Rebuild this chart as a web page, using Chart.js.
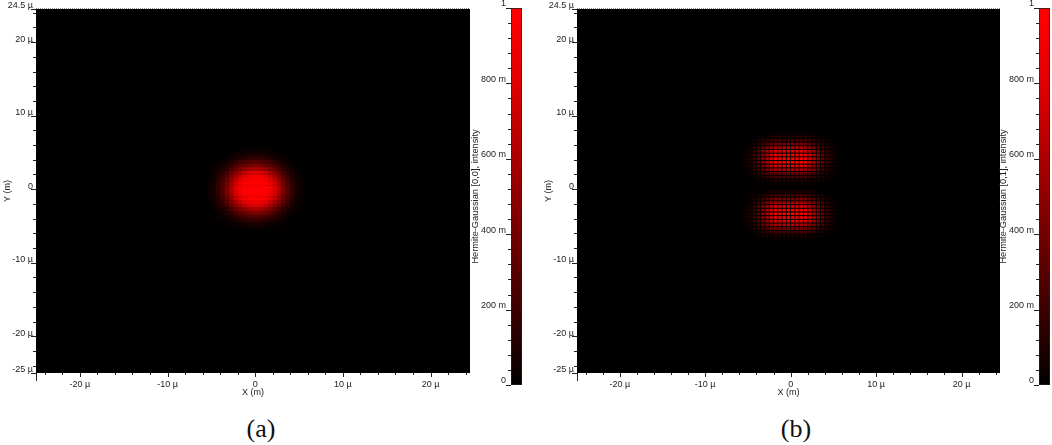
<!DOCTYPE html>
<html>
<head>
<meta charset="utf-8">
<title>Hermite-Gaussian intensity</title>
<script src="https://cdn.jsdelivr.net/npm/chart.js@4"></script>
<style>
    html, body { margin: 0; padding: 0; background: #fff; }
    body { width: 1052px; height: 445px; position: relative; overflow: hidden; }
    canvas { position: absolute; top: 0; }
    .caption { position: absolute; top: 414px; font: 26px "Liberation Serif", serif; color: #111; transform: translateX(-50%); }
</style>
</head>
<body>
<canvas id="beamA" width="475" height="400" style="left:0"></canvas>
<canvas id="barA" width="53" height="400" style="left:470px"></canvas>
<canvas id="beamB" width="464" height="400" style="left:541px"></canvas>
<canvas id="barB" width="53" height="400" style="left:998px"></canvas>
<div class="caption" style="left:261px">(a)</div>
<div class="caption" style="left:796px">(b)</div>
<script>
// Axis ticks (values in microns)
const xTickValues = [-20, -10, 0, 10, 20];
const xTickLabels = ['-20 µ', '-10 µ', '0', '10 µ', '20 µ'];
const yTickValues = [-25, -20, -10, 0, 10, 20, 24.5];
const yTickLabels = ['-25 µ', '-20 µ', '-10 µ', '0', '10 µ', '20 µ', '24.5 µ'];
const minorTicks = [-24, -22, -18, -16, -14, -12, -8, -6, -4, -2, 2, 4, 6, 8, 12, 14, 16, 18, 22, 24];

// Colour bar
const barTickValues = [0, 0.2, 0.4, 0.6, 0.8, 1];
const barTickLabels = ['0', '200 m', '400 m', '600 m', '800 m', '1'];
const barMinorTicks = [0.04, 0.08, 0.12, 0.16, 0.24, 0.28, 0.32, 0.36, 0.44, 0.48, 0.52, 0.56, 0.64, 0.68, 0.72, 0.76, 0.84, 0.88, 0.92, 0.96];
const rampStops = [0, 0.2, 0.4, 0.6, 0.8, 1];
const rampReds = [0, 60, 115, 170, 225, 255];

// Distance from the beam centre of each cell (microns)
const cellOffsets = [0.25, 0.75, 1.25, 1.75, 2.25, 2.75, 3.25, 3.75, 4.25, 4.75, 5.25, 5.75];
const lobeOffsets = [0.25, 0.75, 1.25, 1.75, 2.25, 2.75, 3.25, 3.75, 4.25, 4.75, 5.25, 5.75, 6.25, 6.75, 7.25];

// Intensity in percent, one quadrant, rows are y offsets and columns x offsets.
// Both spots look symmetric so the other quadrants are mirrored below.
const beam00 = [
    [100, 100, 100, 92, 78, 60, 43, 28, 17, 9, 4, 1],
    [100, 100, 97, 88, 74, 57, 40, 26, 16, 8, 4, 1],
    [100, 97, 92, 81, 67, 50, 36, 23, 13, 7, 3, 1],
    [92, 88, 81, 71, 57, 43, 31, 20, 11, 6, 2, 1],
    [78, 74, 67, 57, 46, 34, 23, 15, 8, 4, 1, 1],
    [60, 57, 50, 43, 34, 25, 16, 10, 6, 3, 1, 0],
    [43, 40, 36, 31, 23, 16, 11, 7, 3, 1, 1, 0],
    [28, 26, 23, 20, 15, 10, 7, 4, 2, 1, 0, 0],
    [17, 16, 13, 11, 8, 6, 3, 2, 1, 0, 0, 0],
    [9, 8, 7, 6, 4, 3, 1, 1, 0, 0, 0, 0],
    [4, 4, 3, 2, 1, 1, 1, 0, 0, 0, 0, 0],
    [1, 1, 1, 1, 1, 0, 0, 0, 0, 0, 0, 0]
];
const beam01 = [
    [3, 3, 3, 3, 2, 2, 1, 1, 1, 0, 0, 0],
    [10, 10, 9, 9, 8, 6, 5, 3, 2, 1, 1, 0],
    [25, 25, 24, 22, 19, 16, 12, 9, 5, 3, 1, 0],
    [45, 44, 42, 39, 35, 29, 22, 15, 9, 5, 2, 0],
    [68, 67, 64, 59, 52, 44, 33, 23, 14, 7, 3, 1],
    [87, 85, 82, 76, 67, 56, 43, 30, 18, 10, 4, 1],
    [98, 96, 92, 85, 75, 63, 48, 33, 21, 11, 5, 1],
    [100, 98, 94, 87, 77, 64, 49, 34, 21, 11, 5, 1],
    [98, 96, 92, 85, 75, 63, 48, 33, 21, 11, 5, 1],
    [87, 85, 82, 76, 67, 56, 43, 30, 18, 10, 4, 1],
    [68, 67, 64, 59, 52, 44, 33, 23, 14, 7, 3, 1],
    [45, 44, 42, 39, 35, 29, 22, 15, 9, 5, 2, 0],
    [25, 25, 24, 22, 19, 16, 12, 9, 5, 3, 1, 0],
    [11, 11, 10, 10, 8, 7, 5, 4, 2, 1, 1, 0],
    [3, 3, 3, 3, 2, 2, 1, 1, 1, 0, 0, 0]
];

const TEXT_COLOR = '#222';
const FONT = { family: '"Liberation Sans", Arial, sans-serif', size: 9 };
const BAR_TITLE_FONT = { family: '"Liberation Sans", Arial, sans-serif', size: 9.25 };

function rampColor(level) {
    let i = 1;
    while (i < rampStops.length - 1 && level > rampStops[i]) i++;
    const t = (level - rampStops[i - 1]) / (rampStops[i] - rampStops[i - 1]);
    const red = rampReds[i - 1] + t * (rampReds[i] - rampReds[i - 1]);
    return `rgb(${Math.round(red)},0,0)`;
}

// Mirror a quadrant table into floating bars, one bar per cell
function buildCells(table, rowOffsets, centerY, halfHeight) {
    const cells = [];
    table.forEach((row, r) => {
        row.forEach((value, c) => {
            [-1, 1].forEach(sx => {
                [-1, 1].forEach(sy => {
                    const y = centerY + sy * rowOffsets[r];
                    cells.push({ x: sx * cellOffsets[c], y: [y - halfHeight, y + halfHeight], level: value / 100 });
                });
            });
        });
    });
    return cells;
}

function drawMark(ctx, x1, y1, x2, y2) {
    ctx.beginPath();
    ctx.moveTo(x1, y1);
    ctx.lineTo(x2, y2);
    ctx.stroke();
}

function snap(px) {
    return Math.round(px) + 0.5;
}

const plotMarks = {
    id: 'plotMarks',
    beforeDatasetsDraw(chart) {
        const area = chart.chartArea;
        chart.ctx.fillStyle = '#000';
        chart.ctx.fillRect(area.left, area.top, area.width, area.height);
    },
    afterDraw(chart) {
        const ctx = chart.ctx;
        const area = chart.chartArea;
        const xScale = chart.scales.x;
        const yScale = chart.scales.y;
        ctx.save();
        ctx.strokeStyle = '#222';
        ctx.lineWidth = 1;
        minorTicks.forEach(v => {
            drawMark(ctx, snap(xScale.getPixelForValue(v)), area.bottom, snap(xScale.getPixelForValue(v)), area.bottom + 2);
            drawMark(ctx, area.left - 3, snap(yScale.getPixelForValue(v)), area.left, snap(yScale.getPixelForValue(v)));
        });
        xTickValues.forEach(v => {
            drawMark(ctx, snap(xScale.getPixelForValue(v)), area.bottom, snap(xScale.getPixelForValue(v)), area.bottom + 4);
        });
        yTickValues.forEach(v => {
            drawMark(ctx, area.left - 5, snap(yScale.getPixelForValue(v)), area.left, snap(yScale.getPixelForValue(v)));
        });
        // long tick on the left end of the x axis
        drawMark(ctx, snap(area.left), area.bottom, snap(area.left), area.bottom + 8);
        // dotted edge above the plot
        ctx.strokeStyle = '#888';
        ctx.setLineDash([1, 1]);
        drawMark(ctx, area.left, area.top - 0.5, area.right, area.top - 0.5);
        ctx.restore();
    }
};

const barMarks = {
    id: 'barMarks',
    afterDraw(chart) {
        const ctx = chart.ctx;
        const area = chart.chartArea;
        const yScale = chart.scales.y;
        ctx.save();
        ctx.strokeStyle = '#222';
        ctx.lineWidth = 1;
        barMinorTicks.forEach(v => {
            drawMark(ctx, area.left - 3, snap(yScale.getPixelForValue(v)), area.left, snap(yScale.getPixelForValue(v)));
        });
        barTickValues.forEach(v => {
            drawMark(ctx, area.left - 5, snap(yScale.getPixelForValue(v)), area.left, snap(yScale.getPixelForValue(v)));
        });
        ctx.restore();
    }
};

function fixedTicks(values) {
    return scale => {
        scale.ticks = values.map(value => ({ value }));
    };
}

function labelFor(values, labels) {
    return value => labels[values.indexOf(value)];
}

function fixedWidth(width) {
    return scale => {
        scale.width = width;
        scale.paddingTop = 0;
        scale.paddingBottom = 0;
    };
}

function createBeamChart(id, cells, barThickness, paddingRight) {
    return new Chart(document.getElementById(id), {
        type: 'bar',
        data: {
            datasets: [{
                data: cells,
                backgroundColor: ctx => rampColor(ctx.raw.level),
                barThickness: barThickness,
                borderWidth: 0,
                inflateAmount: 0,
                grouped: false
            }]
        },
        plugins: [plotMarks],
        options: {
            responsive: false,
            animation: false,
            devicePixelRatio: 1,
            layout: { padding: { top: 9, right: paddingRight, bottom: 0, left: 0 } },
            plugins: { legend: { display: false }, tooltip: { enabled: false } },
            scales: {
                x: {
                    type: 'linear',
                    min: -25,
                    max: 24.5,
                    offset: false,
                    grid: { display: false, drawTicks: false },
                    border: { display: false },
                    afterBuildTicks: fixedTicks(xTickValues),
                    afterFit: scale => {
                        scale.height = 27;
                        scale.paddingLeft = 0;
                        scale.paddingRight = 0;
                    },
                    ticks: {
                        color: TEXT_COLOR,
                        font: FONT,
                        padding: 6,
                        maxRotation: 0,
                        autoSkip: false,
                        callback: labelFor(xTickValues, xTickLabels)
                    },
                    title: { display: true, text: 'X (m)', color: TEXT_COLOR, font: FONT, padding: { top: 0, bottom: 2 } }
                },
                y: {
                    type: 'linear',
                    min: -25,
                    max: 24.5,
                    grid: { display: false, drawTicks: false },
                    border: { display: false },
                    afterBuildTicks: fixedTicks(yTickValues),
                    afterFit: fixedWidth(36),
                    ticks: {
                        color: TEXT_COLOR,
                        font: FONT,
                        padding: 3,
                        labelOffset: -3,
                        autoSkip: false,
                        callback: labelFor(yTickValues, yTickLabels)
                    },
                    title: { display: true, text: 'Y (m)', color: TEXT_COLOR, font: FONT, padding: { top: 2, bottom: 0 } }
                }
            }
        }
    });
}

function createColorBar(id, titleText) {
    return new Chart(document.getElementById(id), {
        type: 'bar',
        data: {
            labels: ['intensity'],
            datasets: [{
                data: [[0, 1]],
                backgroundColor: ctx => {
                    const { chartArea, ctx: canvasCtx, scales } = ctx.chart;
                    if (!chartArea) return '#000';
                    const gradient = canvasCtx.createLinearGradient(0, scales.y.getPixelForValue(0), 0, scales.y.getPixelForValue(1));
                    rampStops.forEach(stop => gradient.addColorStop(stop, rampColor(stop)));
                    return gradient;
                },
                borderColor: '#222',
                borderWidth: 1,
                borderSkipped: false,
                barPercentage: 1,
                categoryPercentage: 1
            }]
        },
        plugins: [barMarks],
        options: {
            responsive: false,
            animation: false,
            devicePixelRatio: 1,
            layout: { padding: { top: 8, right: 1, bottom: 15, left: 0 } },
            plugins: { legend: { display: false }, tooltip: { enabled: false } },
            scales: {
                x: { display: false },
                y: {
                    type: 'linear',
                    min: 0,
                    max: 1,
                    grid: { display: false, drawTicks: false },
                    border: { display: false },
                    afterBuildTicks: fixedTicks(barTickValues),
                    afterFit: fixedWidth(41),
                    ticks: {
                        color: TEXT_COLOR,
                        font: FONT,
                        padding: 5,
                        labelOffset: -4,
                        autoSkip: false,
                        callback: labelFor(barTickValues, barTickLabels)
                    },
                    title: { display: true, text: titleText, color: TEXT_COLOR, font: BAR_TITLE_FONT, padding: { top: 0, bottom: 0 } }
                }
            }
        }
    });
}

createBeamChart('beamA', buildCells(beam00, cellOffsets, 0, 0.27), 5, 5);
createBeamChart('beamB', buildCells(beam01, lobeOffsets, 0.4, 0.18), 3.4, 5);
createColorBar('barA', 'Hermite-Gaussian [0,0], intensity');
createColorBar('barB', 'Hermite-Gaussian [0,1], intensity');
</script>
</body>
</html>
